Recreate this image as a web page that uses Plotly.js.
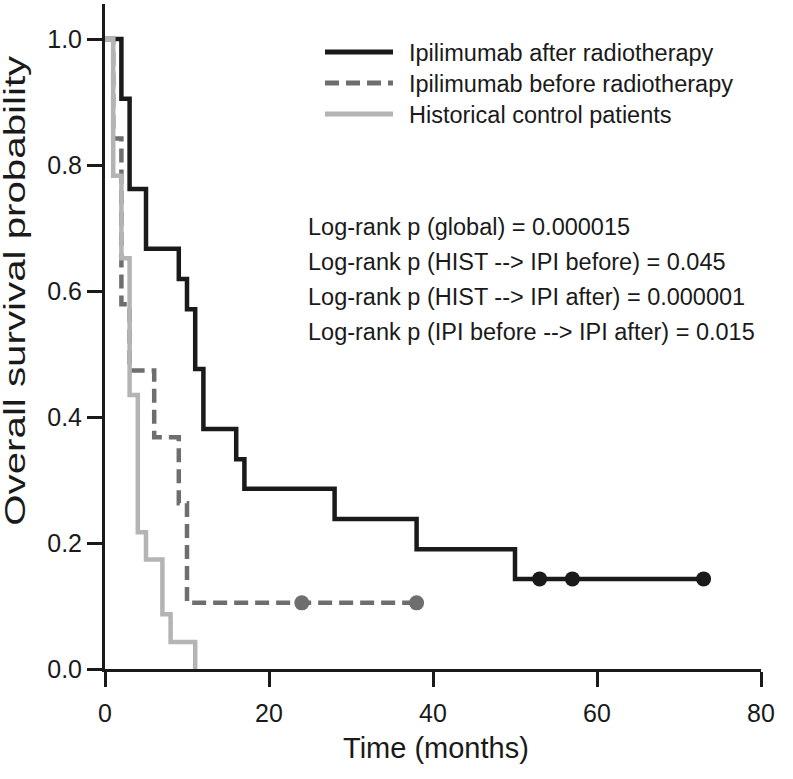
<!DOCTYPE html>
<html>
<head>
<meta charset="utf-8">
<script src="https://cdn.plot.ly/plotly-3.0.1.min.js"></script>
<style>html,body{margin:0;padding:0;background:#fff;}#chart{width:793px;height:779px;}</style>
</head>
<body>
<div id="chart"></div>
<script>
// ---- Data ----
const afterTimes = [0, 2, 3, 5, 9, 10, 11, 12, 16, 17, 28, 38, 50, 73];
const afterSurv  = [1.0, 0.905, 0.762, 0.667, 0.619, 0.571, 0.476, 0.381, 0.333, 0.286, 0.238, 0.190, 0.143, 0.143];
const afterCensorTimes = [53, 57, 73];
const afterCensorSurv  = [0.143, 0.143, 0.143];

const beforeTimes = [0, 1, 2, 3, 6, 9, 10, 38];
const beforeSurv  = [1.0, 0.842, 0.579, 0.474, 0.368, 0.263, 0.105, 0.105];
const beforeCensorTimes = [24, 38];
const beforeCensorSurv  = [0.105, 0.105];

const histTimes = [0, 1, 2, 3, 4, 5, 7, 8, 11];
const histSurv  = [1.0, 0.783, 0.652, 0.435, 0.217, 0.174, 0.087, 0.043, 0.0];

const seriesNames = ["Ipilimumab after radiotherapy", "Ipilimumab before radiotherapy", "Historical control patients"];
const statLines = [
  "Log-rank p (global) = 0.000015",
  "Log-rank p (HIST --> IPI before) = 0.045",
  "Log-rank p (HIST --> IPI after) = 0.000001",
  "Log-rank p (IPI before --> IPI after) = 0.015"
];
const xTickVals = [0, 20, 40, 60, 80];
const yTickVals = [0, 0.2, 0.4, 0.6, 0.8, 1.0];
const yTickText = ["0.0", "0.2", "0.4", "0.6", "0.8", "1.0"];
const xTitle = "Time (months)";
const yTitle = "Overall survival probability";

// ---- Styling ----
const W = 793, H = 779;
const PL = 105, PR = 761, PT = 4, PB = 669;
const FONT = "Liberation Sans, Arial, Helvetica, sans-serif";
const TXT = "#1a1a1a";
const cAfter = "#1a1a1a", cBefore = "#6e6e6e", cHist = "#b4b4b4";
const lw = 4.5;
const yMax = (PB - PT) / 630;

const px2paperX = p => (p - PL) / (PR - PL);
const px2paperY = p => (PB - p) / (PB - PT);

const traces = [
  {x: afterTimes, y: afterSurv, mode: "lines", line: {shape: "hv", color: cAfter, width: lw}, hoverinfo: "skip"},
  {x: beforeTimes, y: beforeSurv, mode: "lines", line: {shape: "hv", color: cBefore, width: lw, dash: "14px,7px"}, hoverinfo: "skip"},
  {x: histTimes, y: histSurv, mode: "lines", line: {shape: "hv", color: cHist, width: lw}, hoverinfo: "skip"},
  {x: afterCensorTimes, y: afterCensorSurv, mode: "markers", marker: {color: cAfter, size: 15}, hoverinfo: "skip"},
  {x: beforeCensorTimes, y: beforeCensorSurv, mode: "markers", marker: {color: cBefore, size: 15}, hoverinfo: "skip"}
];

const legendRowsPx = [52, 83, 114];
const legendColors = [cAfter, cBefore, cHist];
const legendDash = ["solid", "14px,7px", "solid"];
const shapes = [];
const annotations = [];
seriesNames.forEach((name, i) => {
  shapes.push({type: "line", xref: "paper", yref: "paper",
    x0: px2paperX(325), x1: px2paperX(393), y0: px2paperY(legendRowsPx[i]), y1: px2paperY(legendRowsPx[i]),
    line: {color: legendColors[i], width: 5, dash: legendDash[i]}});
  annotations.push({xref: "paper", yref: "paper", x: px2paperX(407), y: px2paperY(legendRowsPx[i] + 1),
    xanchor: "left", yanchor: "middle", showarrow: false, text: name,
    font: {family: FONT, size: 23.5, color: TXT}});
});
const statRowsPx = [227, 262, 297, 332];
statLines.forEach((t, i) => {
  annotations.push({xref: "paper", yref: "paper", x: px2paperX(306), y: px2paperY(statRowsPx[i]),
    xanchor: "left", yanchor: "middle", showarrow: false, text: t,
    font: {family: FONT, size: 23.5, color: TXT}});
});
// axis titles
annotations.push({xref: "paper", yref: "paper", x: px2paperX(436), y: px2paperY(748),
  xanchor: "center", yanchor: "middle", showarrow: false, text: xTitle,
  font: {family: FONT, size: 29, color: TXT}});
annotations.push({xref: "paper", yref: "paper", x: px2paperX(15), y: px2paperY(291),
  xanchor: "center", yanchor: "middle", showarrow: false, text: yTitle, textangle: -90,
  font: {family: FONT, size: 29, color: TXT}});

const layout = {
  width: W, height: H,
  margin: {l: PL, r: W - PR, t: PT, b: H - PB},
  paper_bgcolor: "#ffffff", plot_bgcolor: "#ffffff",
  showlegend: false,
  font: {family: FONT, color: TXT},
  xaxis: {
    range: [0, 80], tickvals: xTickVals, ticktext: xTickVals.map(String),
    showgrid: false, zeroline: false, showline: true, linecolor: TXT, linewidth: 3,
    ticks: "outside", ticklen: 15, tickwidth: 3, tickcolor: TXT,
    tickfont: {family: FONT, size: 25, color: TXT}, ticklabelstandoff: 5,
    automargin: false, fixedrange: true
  },
  yaxis: {
    range: [0, yMax], tickvals: yTickVals, ticktext: yTickText,
    showgrid: false, zeroline: false, showline: true, linecolor: TXT, linewidth: 3,
    ticks: "outside", ticklen: 15, tickwidth: 3, tickcolor: TXT,
    tickfont: {family: FONT, size: 25, color: TXT}, ticklabelstandoff: 0,
    automargin: false, fixedrange: true
  },
  shapes: shapes,
  annotations: annotations
};

Plotly.newPlot("chart", traces, layout, {displayModeBar: false, staticPlot: true}).then(() => {
  // the reference's y-axis title is drawn stretched along its length
  document.querySelectorAll("#chart .annotation-text").forEach(el => {
    if (el.textContent === yTitle) {
      el.setAttribute("textLength", "470");
      el.setAttribute("lengthAdjust", "spacingAndGlyphs");
    }
  });
});
</script>
</body>
</html>
